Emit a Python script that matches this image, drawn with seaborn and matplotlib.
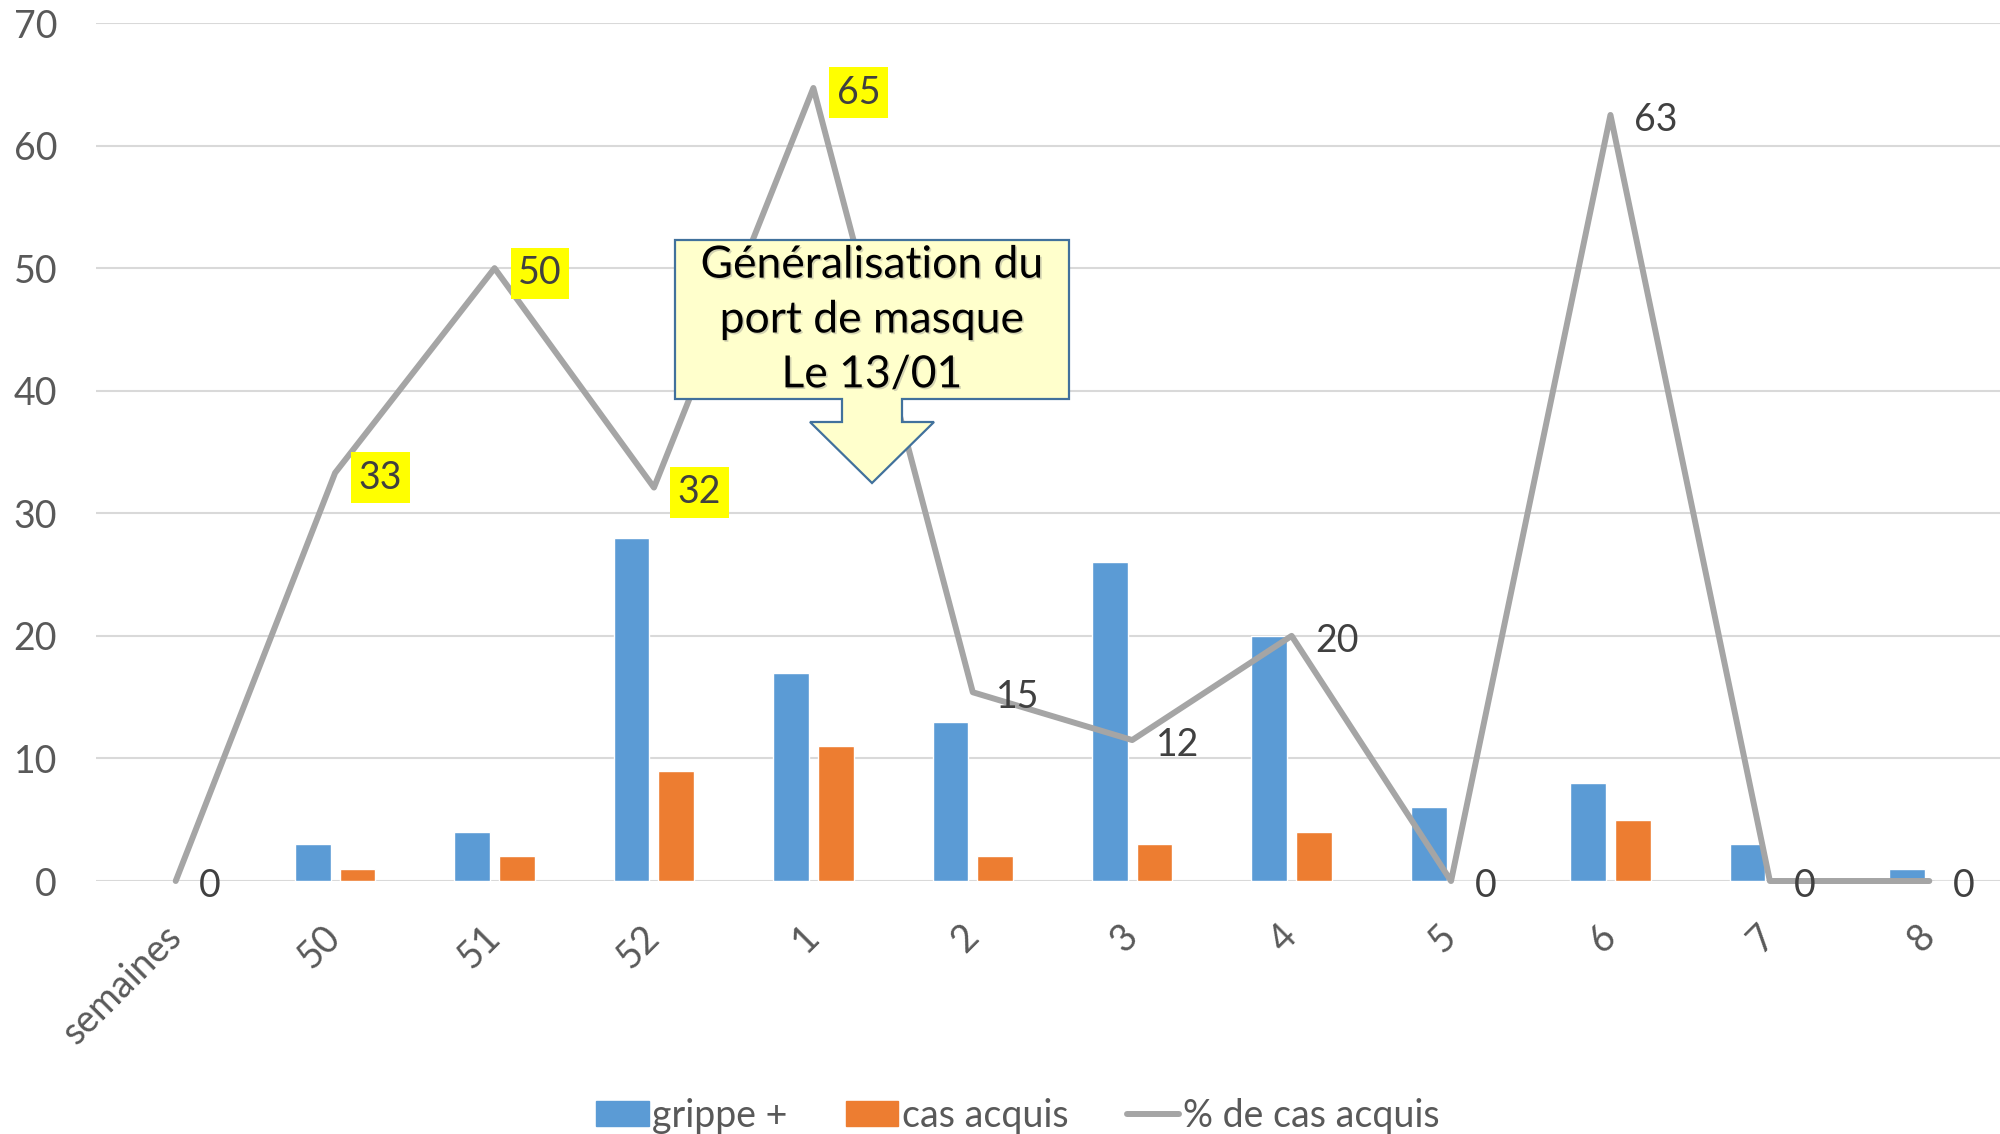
import numpy as np
import pandas as pd
import matplotlib
matplotlib.use("Agg")
import matplotlib.pyplot as plt
import matplotlib.patheffects as pe
from matplotlib.patches import Patch, Polygon
from matplotlib.lines import Line2D
import seaborn as sns

# --- data ---
weeks = ["semaines", "50", "51", "52", "1", "2", "3", "4", "5", "6", "7", "8"]
grippe = [np.nan, 3, 4, 28, 17, 13, 26, 20, 6, 8, 3, 1]
acquis = [np.nan, 1, 2, 9, 11, 2, 3, 4, 0, 5, 0, 0]
pct = [0, 33.3, 50, 32.1, 64.7, 15.4, 11.5, 20, 0, 62.5, 0, 0]
highlight = ["50", "51", "52", "1"]

series = ["grippe +", "cas acquis", "% de cas acquis"]
colors = ["#5B9BD5", "#ED7D31", "#A5A5A5"]
note = "Généralisation du\nport de masque\nLe 13/01"

sns.set_style("white")
plt.rcParams["font.family"] = ["Lato", "DejaVu Sans"]

df = pd.DataFrame({
    "semaine": weeks * 2,
    "serie": [series[0]] * len(weeks) + [series[1]] * len(weeks),
    "n": grippe + acquis,
}).dropna()

W, H = 2000, 1134
fig = plt.figure(figsize=(20, 11.34), dpi=100)
ax = fig.add_axes([0.048, 0.2231, 0.9565, 0.7566])

sns.barplot(data=df, x="semaine", y="n", hue="serie", order=weeks,
            hue_order=series[:2], palette=colors[:2], saturation=1,
            width=0.56, gap=0.2, errorbar=None, legend=False, ax=ax, zorder=2)
sns.lineplot(x=np.arange(len(weeks)), y=pct, color=colors[2], lw=4.3,
             ax=ax, zorder=3, clip_on=False)

# data labels, placed to the right of each point
for i, (w, v) in enumerate(zip(weeks, pct)):
    txt = str(int(np.floor(v + 0.5)))
    box = dict(boxstyle="square,pad=0.2", fc="#FFFF00", ec="none") if w in highlight else None
    ax.annotate(txt, xy=(i, v), xytext=(17, -3.5), textcoords="offset points",
                ha="left", va="center", fontsize=27, color="#404040",
                bbox=box, zorder=5, annotation_clip=False)

ax.set_xlim(-0.5, len(weeks) - 0.5)
ax.set_ylim(0, 70)
ax.set_yticks(range(0, 71, 10))
ax.set_xticks(range(len(weeks)))
ax.set_xticklabels(weeks, rotation=45, ha="right", va="center", rotation_mode="anchor")
ax.set_xlabel("")
ax.set_ylabel("")
ax.tick_params(axis="y", length=0, pad=28, labelsize=27, labelcolor="#595959")
ax.tick_params(axis="x", length=0, pad=36, labelsize=27, labelcolor="#595959")
ax.set_axisbelow(True)
ax.yaxis.grid(True, color="#D9D9D9", lw=1.5)
ax.xaxis.grid(False)
sns.despine(ax=ax, left=True, bottom=True)

# callout shape with arrow pointing down (pixel coords, y from top)
pts = [(675, 240), (1069, 240), (1069, 399), (902, 399), (902, 422), (934, 422),
       (872, 483), (810, 422), (842, 422), (842, 399), (675, 399)]
poly = Polygon([(x / W, 1 - y / H) for x, y in pts], closed=True,
               transform=fig.transFigure, fc="#FFFFCC", ec="#41719C", lw=1.6, zorder=6)
fig.patches.append(poly)
fig.text(872 / W, 1 - 320 / H, note, ha="center", va="center", fontsize=32,
         color="black", linespacing=1.42, zorder=7,
         path_effects=[pe.withSimplePatchShadow(offset=(1.2, -1.2), shadow_rgbFace="gray", alpha=0.35)])

handles = [Patch(color=colors[0]), Patch(color=colors[1]),
           Line2D([0], [0], color=colors[2], lw=4.3)]
fig.legend(handles, series, loc="lower center", bbox_to_anchor=(0.509, 0.0), ncol=3,
           frameon=False, fontsize=27, labelcolor="#595959", handlelength=1.4,
           handleheight=0.65, handletextpad=0.1, columnspacing=1.55,
           borderpad=0, borderaxespad=0)

fig.savefig("out.png", dpi=100)
